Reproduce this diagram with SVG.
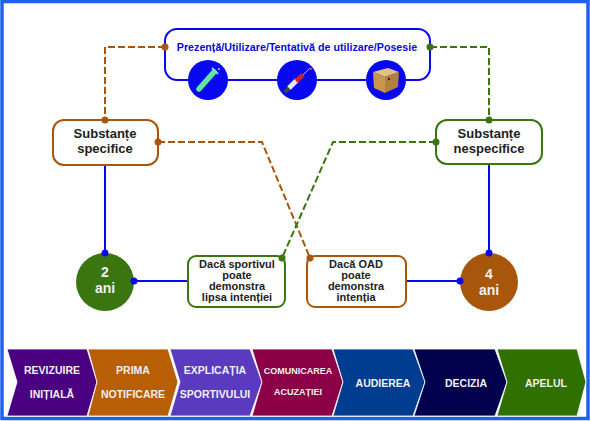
<svg xmlns="http://www.w3.org/2000/svg" width="590" height="421" viewBox="0 0 590 421">
<style>
text{font-family:"Liberation Sans",Arial,sans-serif;font-weight:700;text-anchor:middle}
.b{fill:#fff;stroke-width:2}
.or{stroke:#a8560c}
.gr{stroke:#3a7510}
.l{fill:none;stroke:#0808f0;stroke-width:2}
.do{fill:none;stroke:#a8560c;stroke-width:2;stroke-dasharray:7 3}
.dg{fill:none;stroke:#3a7510;stroke-width:2;stroke-dasharray:7 3}
.t{fill:#222;font-size:11px}
.h{fill:#222;font-size:13px}
.w{fill:#f0f0f0;font-size:14px}
.c{fill:#f0f0f0;font-size:10.500px}
.s{stroke:#fff;stroke-width:.8}
.do-dot{fill:#a8560c}
.dg-dot{fill:#3a7510}
.bl-dot{fill:#0808f0}
</style>
<rect x="2" y="1.500" width="586" height="417" fill="#fff" stroke="#1c62f0" stroke-width="3.500"/>
<g id="top-box">
<rect x="165" y="29" width="265" height="51" rx="12" fill="#fff" stroke="#0808f0" stroke-width="2"/>
<text x="297" y="51" font-size="10.700" fill="#0a0ae0">Prezență/Utilizare/Tentativă de utilizare/Posesie</text>
<circle cx="208" cy="80" r="20" fill="#0808f0"/>
<circle cx="297" cy="80" r="20" fill="#0808f0"/>
<circle cx="386" cy="80" r="20" fill="#0808f0"/>
<g id="icon-vial">
<path d="M199 89L214 72" stroke="#5ee89a" stroke-width="5.500" stroke-linecap="round"/>
<path d="M212 68L218 74" stroke="#8fd0e0" stroke-width="2"/>
<circle cx="219" cy="69" r="1" fill="#a8c8f0"/>
</g>
<g id="icon-syringe">
<path d="M285 92L291 86" stroke="#444" stroke-width="4"/>
<path d="M289 88L297 80" stroke="#e8e8e8" stroke-width="5"/>
<path d="M296 81L303 75" stroke="#d3202a" stroke-width="4.500"/>
<path d="M303 75L310 68" stroke="#bbb" stroke-width="1"/>
<circle cx="311" cy="69" r="1.200" fill="#e0305a"/>
</g>
<g id="icon-box">
<path d="M373 72L388 68L399 72L385 77Z" fill="#e3bf80"/>
<path d="M373 72L385 77L385 93L374 88Z" fill="#c8964f"/>
<path d="M385 77L399 72L398 87L385 93Z" fill="#b08040"/>
<circle cx="389" cy="79" r="1.200" fill="#3a2a14"/>
</g>
</g>
<g id="connectors">
<path class="do" d="M165 47H105V120"/>
<path class="dg" d="M430 47H489V120"/>
<path class="do" d="M158 142H262L310 258"/>
<path class="dg" d="M436 142H333L282 258"/>
<path class="l" d="M105 165V253M134 281H188M406 281H460M489 164V253"/>
</g>
<g id="specifice">
<rect class="b or" x="53" y="120" width="105" height="45" rx="11"/>
<text class="h" x="105" y="138">Substanțe</text><text class="h" x="105" y="153">specifice</text>
</g>
<g id="nespecifice">
<rect class="b gr" x="436" y="120" width="106" height="44" rx="11"/>
<text class="h" x="489" y="138">Substanțe</text><text class="h" x="489" y="153">nespecifice</text>
</g>
<g id="doi-ani">
<circle cx="105" cy="282" r="29" fill="#3a7510"/>
<text class="w" x="105" y="277">2</text><text class="w" x="105" y="293">ani</text>
</g>
<g id="patru-ani">
<circle cx="489" cy="282" r="29" fill="#a8560c"/>
<text class="w" x="489" y="279">4</text><text class="w" x="489" y="295">ani</text>
</g>
<g id="sportiv">
<rect class="b gr" x="188" y="256" width="97" height="51" rx="8"/>
<text class="t" x="237" y="268">Dacă sportivul</text><text class="t" x="237" y="279">poate</text><text class="t" x="237" y="290">demonstra</text><text class="t" x="237" y="301">lipsa intenției</text>
</g>
<g id="oad">
<rect class="b or" x="307" y="256" width="99" height="51" rx="8"/>
<text class="t" x="356" y="268">Dacă OAD</text><text class="t" x="356" y="279">poate</text><text class="t" x="356" y="290">demonstra</text><text class="t" x="356" y="301">intenția</text>
</g>
<g id="connector-dots">
<g class="do-dot"><circle cx="165" cy="47" r="3.500"/><circle cx="105" cy="120" r="3.500"/><circle cx="158" cy="142" r="3.500"/><circle cx="310" cy="258" r="3.500"/></g>
<g class="dg-dot"><circle cx="430" cy="47" r="3.500"/><circle cx="489" cy="120" r="3.500"/><circle cx="436" cy="142" r="3.500"/><circle cx="282" cy="258" r="3.500"/></g>
<g class="bl-dot"><circle cx="105" cy="253" r="3.500"/><circle cx="134" cy="281" r="3.500"/><circle cx="489" cy="253" r="3.500"/><circle cx="460" cy="281" r="3.500"/></g>
</g>
<g id="step-1"><path class="s" d="M7 349H87L97 382L87 416H7L17 382Z" fill="#4b0082"/><text class="c" x="52" y="374">REVIZUIRE</text><text class="c" x="52" y="398">INIȚIALĂ</text></g>
<g id="step-2"><path class="s" d="M88 349H168L178 382L168 416H88L97 382Z" fill="#b85f05"/><text class="c" x="133" y="374">PRIMA</text><text class="c" x="133" y="398">NOTIFICARE</text></g>
<g id="step-3"><path class="s" d="M170 349H250L262 382L250 416H170L180 382Z" fill="#5a3bbf"/><text class="c" x="215" y="374">EXPLICAȚIA</text><text class="c" x="215" y="398">SPORTIVULUI</text></g>
<g id="step-4"><path class="s" d="M252 349H332L343 382L332 416H252L262 382Z" fill="#8b0046"/><text x="298" y="374" class="c" style="font-size:9px">COMUNICAREA</text><text x="298" y="395" class="c" style="font-size:9px">ACUZAȚIEI</text></g>
<g id="step-5"><path class="s" d="M333 349H413L425 382L413 416H333L343 382Z" fill="#003c8f"/><text class="c" x="383" y="387">AUDIEREA</text></g>
<g id="step-6"><path class="s" d="M414 349H495L507 382L495 416H414L425 382Z" fill="#00004d"/><text class="c" x="466" y="387">DECIZIA</text></g>
<g id="step-7"><path class="s" d="M497 349H577L586 382L577 416H497L507 382Z" fill="#307000"/><text class="c" x="546" y="387">APELUL</text></g>
</svg>
